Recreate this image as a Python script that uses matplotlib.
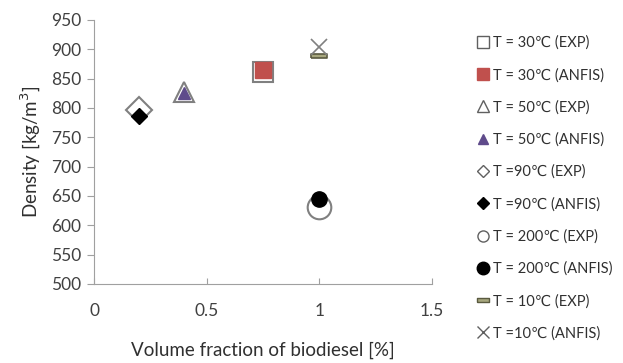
import matplotlib.pyplot as plt
from matplotlib.lines import Line2D

plt.rcParams['font.family'] = ['Lato', 'DejaVu Sans']

# volume fraction and density for each temperature
x30 = [0.75]; exp30 = [862]; anfis30 = [864]
x50 = [0.4]; exp50 = [827]; anfis50 = [825]
x90 = [0.2]; exp90 = [797]; anfis90 = [786]
x200 = [1.0]; exp200 = [631]; anfis200 = [644]
x10 = [1.0]; exp10 = [889]; anfis10 = [904]

labels = ['T = 30\u2103 (EXP)', 'T = 30\u2103 (ANFIS)',
          'T = 50\u2103 (EXP)', 'T = 50\u2103 (ANFIS)',
          'T =90\u2103 (EXP)', 'T =90\u2103 (ANFIS)',
          'T = 200\u2103 (EXP)', 'T = 200\u2103 (ANFIS)',
          'T = 10\u2103 (EXP)', 'T =10\u2103 (ANFIS)']

grey = '#808080'
red = '#C0504D'
purple = '#5F4B8B'
olive_face = '#A7A77E'
olive_edge = '#5A5A40'
bar = [(-1, -0.3), (1, -0.3), (1, 0.3), (-1, 0.3), (-1, -0.3)]

fig = plt.figure(figsize=(6.23, 3.63), dpi=100)
ax = fig.add_axes([0.151, 0.218, 0.542, 0.727])

# experimental points (big, hollow) then ANFIS points on top
ax.plot(x30, exp30, 's', ms=15, mfc='white', mec=grey, mew=1.5)
ax.plot(x30, anfis30, 's', ms=11, mfc=red, mec=red)
ax.plot(x50, exp50, '^', ms=14, mfc='white', mec=grey, mew=1.5)
ax.plot(x50, anfis50, '^', ms=8, mfc=purple, mec=purple)
ax.plot(x90, exp90, 'D', ms=13, mfc='white', mec=grey, mew=1.5)
ax.plot(x90, anfis90, 'D', ms=8, mfc='black', mec='black')
ax.plot(x200, exp200, 'o', ms=17, mfc='white', mec=grey, mew=1.5)
ax.plot(x200, anfis200, 'o', ms=11, mfc='black', mec='black')
ax.plot(x10, exp10, marker=bar, ms=11, mfc=olive_face, mec=olive_edge, mew=1.2, ls='none')
ax.plot(x10, anfis10, 'x', ms=11, color=grey, mew=1.2)

ax.set_xlim(0, 1.5)
ax.set_ylim(500, 950)
ax.set_xticks([0, 0.5, 1, 1.5])
ax.set_xticklabels(['0', '0.5', '1', '1.5'])
ax.set_yticks(range(500, 951, 50))
for s in ['top', 'right']:
    ax.spines[s].set_visible(False)
for s in ['left', 'bottom']:
    ax.spines[s].set_color('#A0A0A0')
ax.tick_params(axis='x', direction='in', length=4, color='#A0A0A0',
               labelsize=12.5, labelcolor='#404040', pad=14)
ax.tick_params(axis='y', direction='out', length=5, color='#A0A0A0',
               labelsize=12.5, labelcolor='#404040', pad=4)
ax.set_xlabel('Volume fraction of biodiesel [%]', fontsize=13.5, color='#303030', labelpad=16)
ax.set_ylabel('Density [kg/m$^3$]', fontsize=13.5, color='#303030', labelpad=6)

handles = [
    Line2D([], [], ls='none', marker='s', ms=8, mfc='white', mec='#606060'),
    Line2D([], [], ls='none', marker='s', ms=8, mfc=red, mec=red),
    Line2D([], [], ls='none', marker='^', ms=8, mfc='white', mec='#606060'),
    Line2D([], [], ls='none', marker='^', ms=7, mfc=purple, mec=purple),
    Line2D([], [], ls='none', marker='D', ms=6, mfc='white', mec='#606060'),
    Line2D([], [], ls='none', marker='D', ms=6, mfc='black', mec='black'),
    Line2D([], [], ls='none', marker='o', ms=8, mfc='white', mec='#606060'),
    Line2D([], [], ls='none', marker='o', ms=9, mfc='black', mec='black'),
    Line2D([], [], ls='none', marker=bar, ms=8, mfc=olive_face, mec=olive_edge),
    Line2D([], [], ls='none', marker='x', ms=8, color='#606060'),
]
fig.legend(handles, labels, loc='upper left', bbox_to_anchor=(0.745, 0.938),
           frameon=False, fontsize=10.5, labelspacing=1.23, handlelength=0.8,
           handletextpad=0.3, labelcolor='#303030')

fig.savefig('out.png', dpi=100)
